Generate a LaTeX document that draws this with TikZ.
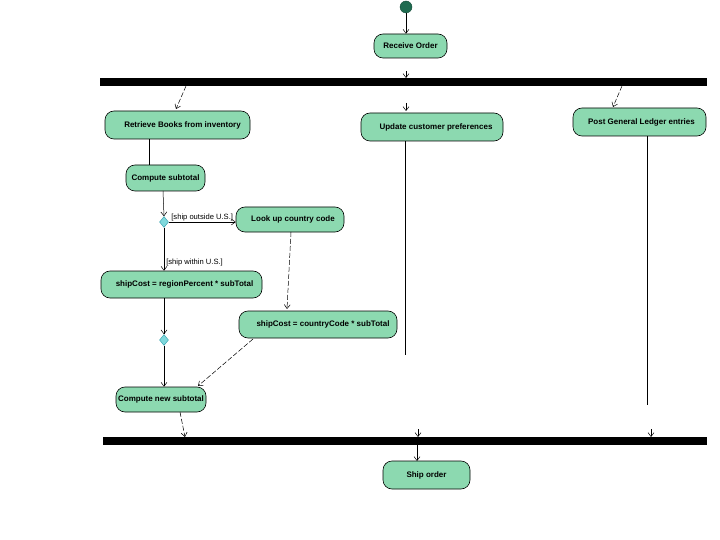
\documentclass[tikz,border=0pt]{standalone}
\usepackage{fontspec}
\setmainfont{Liberation Sans}
\usetikzlibrary{arrows.meta,shapes.geometric}
\definecolor{actfill}{HTML}{8CD9B0}
\definecolor{startc}{HTML}{1F6B50}
\definecolor{diafill}{HTML}{7FD8DC}
\definecolor{diadraw}{HTML}{2A9AA8}
\tikzset{
  act/.style={draw=black, line width=0.6pt, fill=actfill, rounded corners=9pt, inner sep=0pt, font=\fontsize{8}{9}\selectfont\bfseries},
  bar/.style={fill=black, draw=none, inner sep=0pt},
  dec/.style={diamond, fill=diafill, draw=diadraw, line width=0.4pt, inner sep=0pt, minimum width=9pt, minimum height=11pt},
  flow/.style={draw=black, line width=0.5pt, -{Straight Barb[length=4pt,width=6pt]}},
  dflow/.style={flow, dash pattern=on 5pt off 2pt},
  guard/.style={font=\fontsize{7.6}{8}\selectfont, inner sep=1pt}
}
\begin{document}
\begin{tikzpicture}[x=1pt,y=-1pt]
\useasboundingbox (0,0) rectangle (720,540);
% start
\node[circle, fill=startc, draw=startc!70!black, minimum size=12pt, inner sep=0pt] (start) at (406,7) {};
\node[act, minimum width=73pt, minimum height=24pt] (recv) at (410.5,46) {Receive Order};
% fork / join bars
\node[bar, minimum width=607pt, minimum height=8pt] (fork) at (403.5,82) {};
\node[bar, minimum width=604pt, minimum height=8pt] (join) at (405,441) {};
% activities
\node[act, minimum width=145pt, minimum height=28pt] (retr) at (177.5,125) {\hspace{10pt}Retrieve Books from inventory};
\node[act, minimum width=142pt, minimum height=28pt] (upd) at (432,127) {\hspace{8pt}Update customer preferences};
\node[act, minimum width=133pt, minimum height=28pt] (post) at (639.5,122) {\hspace{4pt}Post General Ledger entries};
\node[act, minimum width=79pt, minimum height=26pt] (csub) at (165.5,178) {Compute subtotal};
\node[dec] (d1) at (164,222) {};
\node[act, minimum width=108pt, minimum height=25pt] (look) at (290,219.5) {\hspace{6pt}Look up country code};
\node[act, minimum width=161pt, minimum height=27pt] (reg) at (181.5,284.5) {\hspace{6pt}shipCost = regionPercent * subTotal};
\node[act, minimum width=158pt, minimum height=27pt] (cty) at (318,324.5) {\hspace{10pt}shipCost = countryCode * subTotal};
\node[dec] (d2) at (164,340) {};
\node[act, minimum width=90pt, minimum height=25pt] (cnew) at (161,399.5) {Compute new subtotal};
\node[act, minimum width=87pt, minimum height=28pt] (ship) at (426.5,475) {Ship order};
% connectors
\draw[flow] (start) -- (start |- recv.north);
\draw[flow] (406,71) -- (406,78);
\draw[dflow] (186,86) -- (176,109);
\draw[flow] (406,103) -- (406,111);
\draw[dflow] (622,86) -- (613,107);
\draw[draw=black, line width=0.5pt] (149,139) -- (149,165);
\draw[flow] (163,191) -- (d1.north);
\draw[flow] (d1.east) -- (look.west |- d1.east) node[guard, pos=0.5, above, xshift=0pt] {[ship outside U.S.]};
\draw[flow] (d1.south) -- (d1.south |- reg.north) node[guard, pos=0.8, right, xshift=1pt] {[ship within U.S.]};
\draw[dflow] (291,232) -- (287,309);
\draw[flow] (d1.south |- reg.south) -- (d2.north);
\draw[flow] (d2.south) -- (d2.south |- cnew.north);
\draw[dflow] (253,339) -- (198,386);
\draw[dflow] (180,412) -- (185,437);
\draw[line width=0.5pt] (upd.south -| 405,0) -- (405,355);
\draw[flow] (418,429) -- (418,437);
\draw[line width=0.5pt] (post.south -| 647,0) -- (647,405);
\draw[flow] (651,429) -- (651,437);
\draw[flow] (417,445) -- (417,461);
\end{tikzpicture}
\end{document}
